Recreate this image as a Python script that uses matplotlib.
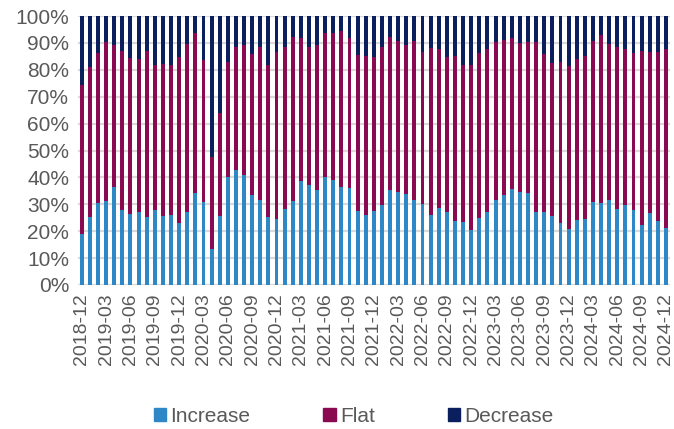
import numpy as np
import matplotlib
matplotlib.use("Agg")
from matplotlib import pyplot as plt
from matplotlib.patches import Patch

plt.rcParams['font.family'] = ['Liberation Sans', 'DejaVu Sans']

# Monthly share of responses, 2018-12 .. 2024-12 (%)
months = ['{0}-{1:02d}'.format(2018 + (11 + i) // 12, (11 + i) % 12 + 1) for i in range(73)]

increase = [19.0, 25.3, 30.4, 31.2, 36.3, 27.9, 26.5, 27.1, 25.3, 27.8, 25.8, 26.0,
            23.2, 27.1, 34.3, 30.9, 13.4, 25.7, 40.1, 42.8, 41.0, 33.3, 31.5, 25.3,
            24.4, 28.1, 31.2, 38.7, 37.2, 35.3, 40.1, 39.0, 36.4, 36.1, 27.4, 26.1,
            27.5, 29.9, 35.2, 34.6, 34.0, 31.6, 30.0, 26.1, 28.5, 27.0, 23.9, 23.4,
            20.4, 24.8, 27.0, 31.6, 33.3, 35.6, 34.6, 34.1, 27.1, 27.0, 25.7, 23.0,
            20.7, 24.2, 24.4, 30.9, 30.4, 31.6, 28.3, 29.7, 27.9, 22.3, 26.9, 23.9,
            21.1]

flat = [55.3, 55.6, 55.7, 59.3, 52.8, 59.0, 57.8, 57.0, 61.6, 53.9, 56.2, 55.7,
        61.7, 62.5, 59.3, 52.6, 34.1, 38.1, 42.7, 45.6, 48.1, 52.4, 57.1, 56.4,
        62.2, 60.5, 61.1, 53.0, 51.3, 53.9, 53.5, 54.6, 58.1, 55.6, 58.1, 59.2,
        57.3, 58.5, 57.1, 56.2, 55.2, 59.2, 56.5, 61.9, 59.1, 57.8, 61.1, 58.3,
        61.4, 61.3, 60.6, 58.9, 57.7, 56.1, 55.4, 56.1, 63.4, 58.9, 56.8, 59.9,
        60.8, 59.7, 60.7, 59.7, 62.7, 57.9, 60.1, 57.9, 58.2, 64.6, 59.8, 62.6,
        66.5]

decrease = [25.7, 19.1, 13.9, 9.5, 10.9, 13.1, 15.7, 15.9, 13.1, 18.3, 18.0, 18.3,
            15.1, 10.4, 6.4, 16.5, 52.5, 36.2, 17.2, 11.6, 10.9, 14.3, 11.4, 18.3,
            13.4, 11.4, 7.7, 8.3, 11.5, 10.8, 6.4, 6.4, 5.5, 8.3, 14.5, 14.7,
            15.2, 11.6, 7.7, 9.2, 10.8, 9.2, 13.5, 12.0, 12.4, 15.2, 15.0, 18.3,
            18.2, 13.9, 12.4, 9.5, 9.0, 8.3, 10.0, 9.8, 9.5, 14.1, 17.5, 17.1,
            18.5, 16.1, 14.9, 9.4, 6.9, 10.5, 11.6, 12.4, 13.9, 13.1, 13.3, 13.5,
            12.4]

c_inc = '#2E88C6'
c_flat = '#8A0A52'
c_dec = '#0B1F5E'
txt = '#595959'

x = np.arange(len(months))
inc = np.array(increase)
fl = np.array(flat)
de = np.array(decrease)

fig = plt.figure(figsize=(6.74, 4.29), dpi=100)
ax = fig.add_axes([77.7 / 674, 1 - 285 / 429, (670 - 77.7) / 674, (285 - 16) / 429])

w = 0.48
ax.bar(x, inc, w, color=c_inc, zorder=3)
ax.bar(x, fl, w, bottom=inc, color=c_flat, zorder=3)
ax.bar(x, de, w, bottom=inc + fl, color=c_dec, zorder=3)

ax.set_xlim(-0.5, len(months) - 0.5)
ax.set_ylim(0, 100)
ax.set_yticks(np.arange(0, 101, 10))
ax.set_yticklabels(['{0}%'.format(v) for v in range(0, 101, 10)])
ax.yaxis.grid(True, color='#D9D9D9', linewidth=1.6, zorder=0)
ax.set_axisbelow(True)

ax.set_xticks(x[::3])
ax.set_xticklabels(months[::3], rotation=90)
ax.tick_params(axis='both', length=0, labelsize=15, colors=txt)
ax.tick_params(axis='x', pad=6, labelsize=14)
ax.tick_params(axis='y', pad=6)
for s in ax.spines.values():
    s.set_visible(False)

handles = [Patch(color=c_inc, label='Increase'),
           Patch(color=c_flat, label='Flat'),
           Patch(color=c_dec, label='Decrease')]
leg = fig.legend(handles=handles, loc='center', bbox_to_anchor=(0.525, 1 - 416 / 429),
                 ncol=3, frameon=False, fontsize=15, handlelength=0.6, handleheight=0.6,
                 handletextpad=0.2, columnspacing=3.5)
for t in leg.get_texts():
    t.set_color(txt)

fig.savefig('out.png', dpi=100)
